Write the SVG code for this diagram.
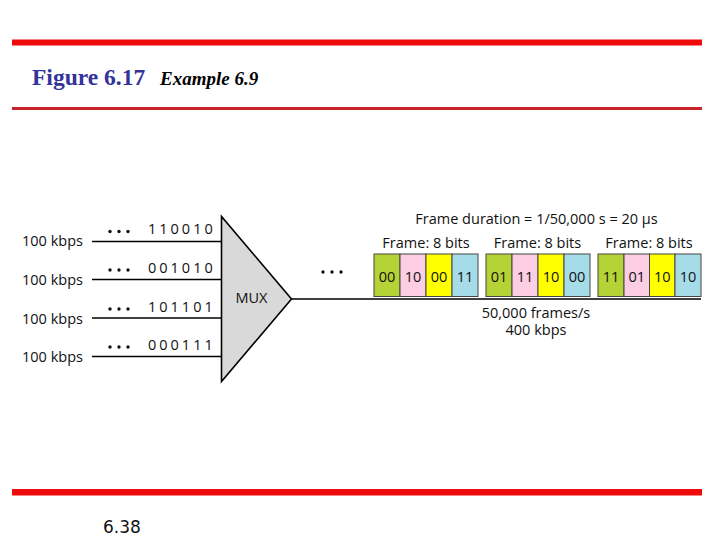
<svg xmlns="http://www.w3.org/2000/svg" width="720" height="540" viewBox="0 0 720 540">
<style>
.s{font-family:"Open Sans","Liberation Sans",sans-serif;fill:#111;font-size:14.5px;}
.bits{letter-spacing:3px;}
.box{stroke:#444;stroke-width:1;}
.g{fill:#b5d334;}.p{fill:#fccde3;}.y{fill:#ffff00;}.b{fill:#a6dbe8;}
.bt{text-anchor:middle;}
.m{text-anchor:middle;}
.ln{stroke:#000;stroke-width:1.6;fill:none;}
.dot{fill:#111;}
</style>
<rect x="0" y="0" width="720" height="540" fill="#fff"/>
<g id="header">
<rect x="12" y="39.5" width="690" height="6" fill="#ee0a0a"/>
<rect x="12" y="107" width="690" height="3" fill="#cc2229"/>
<text x="32" y="85" font-family="Liberation Serif,serif" font-weight="bold" font-size="23.5" fill="#333399">Figure 6.17</text>
<text x="160" y="85" font-family="Liberation Serif,serif" font-weight="bold" font-style="italic" font-size="19" fill="#000">Example 6.9</text>
</g>
<g id="footer">
<rect x="12" y="489" width="690" height="6.5" fill="#ee0a0a"/>
<text x="103" y="533" font-family="DejaVu Sans,sans-serif" font-size="17" fill="#111">6.38</text>
</g>
<g id="connectors">
<line class="ln" x1="92" y1="241.5" x2="222" y2="241.5"/>
<line class="ln" x1="92" y1="279.5" x2="222" y2="279.5"/>
<line class="ln" x1="92" y1="318" x2="222" y2="318"/>
<line class="ln" x1="92" y1="356.5" x2="222" y2="356.5"/>
<line class="ln" x1="292" y1="299" x2="701" y2="299"/>
</g>
<g id="inputs">
<text class="s" x="22" y="246">100 kbps</text>
<text class="s" x="22" y="284.5">100 kbps</text>
<text class="s" x="22" y="323.5">100 kbps</text>
<text class="s" x="22" y="361.5">100 kbps</text>
<g class="dot">
<circle cx="110" cy="231.5" r="1.7"/><circle cx="119" cy="231.5" r="1.7"/><circle cx="128" cy="231.5" r="1.7"/>
<circle cx="110" cy="270" r="1.7"/><circle cx="119" cy="270" r="1.7"/><circle cx="128" cy="270" r="1.7"/>
<circle cx="110" cy="309" r="1.7"/><circle cx="119" cy="309" r="1.7"/><circle cx="128" cy="309" r="1.7"/>
<circle cx="110" cy="347" r="1.7"/><circle cx="119" cy="347" r="1.7"/><circle cx="128" cy="347" r="1.7"/>
</g>
<text class="s bits" x="148" y="234">110010</text>
<text class="s bits" x="148" y="272.5">001010</text>
<text class="s bits" x="148" y="311.5">101101</text>
<text class="s bits" x="148" y="350">000111</text>
</g>
<g id="mux">
<polygon points="221.5,216.5 221.5,381.5 291.5,299" fill="#d9d9d9" stroke="#000" stroke-width="1.6"/>
<text class="s m" x="251.5" y="303">MUX</text>
</g>
<g id="output">
<text class="s m" x="536.5" y="224">Frame duration = 1/50,000 s = 20 μs</text>
<circle class="dot" cx="323" cy="272" r="1.7"/><circle class="dot" cx="332" cy="272" r="1.7"/><circle class="dot" cx="341" cy="272" r="1.7"/>
<text class="s m" x="536" y="317.5">50,000 frames/s</text>
<text class="s m" x="536" y="335">400 kbps</text>
</g>
<g id="frame1">
<text class="s m" x="426" y="248">Frame: 8 bits</text>
<rect class="box g" x="374" y="254" width="26" height="42.5"/>
<rect class="box p" x="400" y="254" width="26" height="42.5"/>
<rect class="box y" x="426" y="254" width="26" height="42.5"/>
<rect class="box b" x="452" y="254" width="26" height="42.5"/>
<text class="s bt" x="387" y="281.5">00</text>
<text class="s bt" x="413" y="281.5">10</text>
<text class="s bt" x="439" y="281.5">00</text>
<text class="s bt" x="465" y="281.5">11</text>
</g>
<g id="frame2">
<text class="s m" x="537.5" y="248">Frame: 8 bits</text>
<rect class="box g" x="486" y="254" width="26" height="42.5"/>
<rect class="box p" x="512" y="254" width="26" height="42.5"/>
<rect class="box y" x="538" y="254" width="26" height="42.5"/>
<rect class="box b" x="564" y="254" width="26" height="42.5"/>
<text class="s bt" x="499" y="281.5">01</text>
<text class="s bt" x="525" y="281.5">11</text>
<text class="s bt" x="551" y="281.5">10</text>
<text class="s bt" x="577" y="281.5">00</text>
</g>
<g id="frame3">
<text class="s m" x="649" y="248">Frame: 8 bits</text>
<rect class="box g" x="598" y="254" width="26" height="42.5"/>
<rect class="box p" x="624" y="254" width="25.5" height="42.5"/>
<rect class="box y" x="649.5" y="254" width="25.5" height="42.5"/>
<rect class="box b" x="675" y="254" width="26" height="42.5"/>
<text class="s bt" x="611" y="281.5">11</text>
<text class="s bt" x="636.7" y="281.5">01</text>
<text class="s bt" x="662.3" y="281.5">10</text>
<text class="s bt" x="688" y="281.5">10</text>
</g>
</svg>
